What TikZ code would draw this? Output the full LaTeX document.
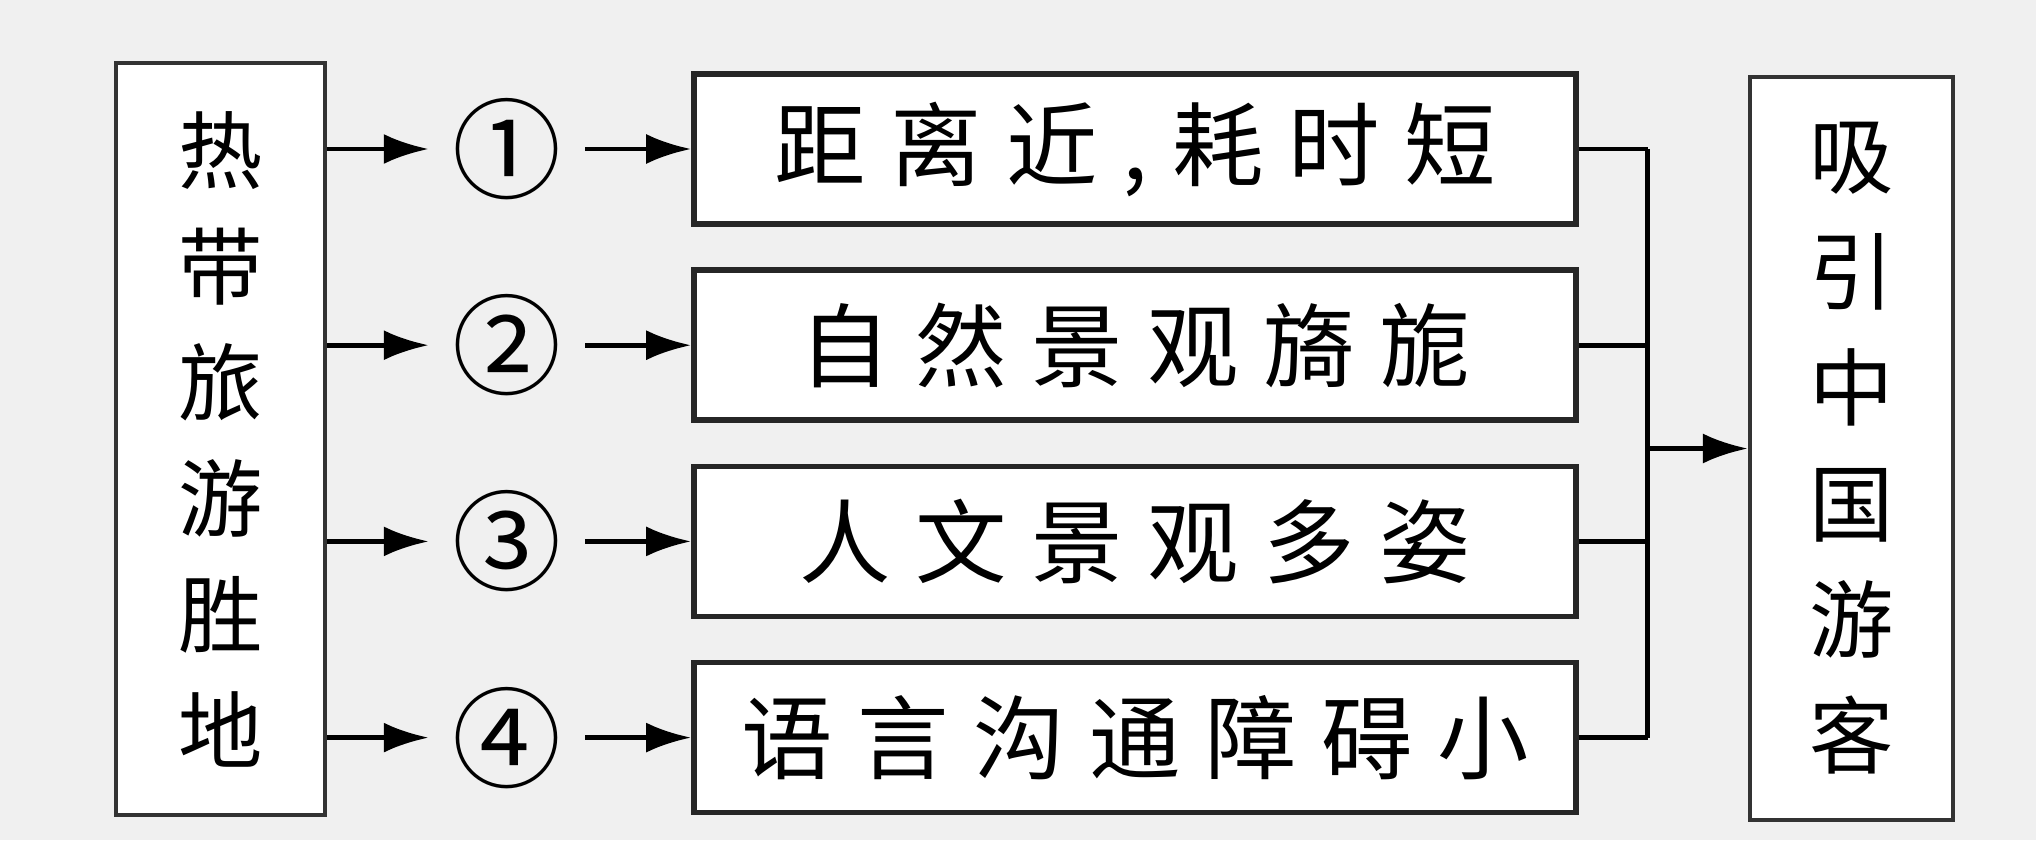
\documentclass[tikz,border=0pt]{standalone}
\usepackage{fontspec}
\setmainfont{Noto Sans CJK SC}
\usetikzlibrary{arrows.meta}
\tikzset{
  box/.style={draw=black!85, line width=1.6pt, fill=white, minimum width=8.82cm, minimum height=1.5cm, inner sep=0pt,
    font=\fontsize{26}{30}\selectfont\addfontfeatures{LetterSpace=27}},
  sidebox/.style={draw=black!80, line width=1.2pt, fill=white, inner sep=0pt, align=center, font=\fontsize{24}{33}\selectfont},
  num/.style={inner sep=0pt, minimum width=1.55cm, minimum height=1cm, font=\fontsize{31}{31}\selectfont},
  arr/.style={line width=1.4pt, -{Latex[length=4.5mm,width=3mm]}},
  link/.style={line width=1.4pt}
}

\begin{document}
\begin{tikzpicture}
   % Background
   \fill[black!6] (0,0) rectangle (20.36,-8.40);
   \useasboundingbox (0,0) rectangle (20.36,-8.40);

   % Side boxes
   \node[sidebox, minimum width=2.09cm, minimum height=7.52cm] (src) at (2.205,-4.39) {热\\带\\旅\\游\\胜\\地};
   \node[sidebox, minimum width=2.03cm, minimum height=7.43cm] (dst) at (18.515,-4.485) {吸\\引\\中\\国\\游\\客};

   % Rows
   \foreach \i/\c/\t in {1/①/{距离近,耗时短}, 2/②/自然景观旖旎, 3/③/人文景观多姿, 4/④/语言沟通障碍小} {
     \node[box] (b\i) at (11.35,{-1.49-1.962*(\i-1)}) {\t};
     \node[num] (n\i) at (5.07,{-1.49-1.962*(\i-1)}) {\c};
     \draw[arr] (src.east |- n\i) -- (n\i.west);
     \draw[arr] (n\i.east) -- (b\i.west);
     \draw[link] (b\i.east) -- ++(0.69,0) coordinate (j\i);
   }

   % Join
   \draw[link] (j1) -- (j4);
   \coordinate (jm) at (j1 |- dst.west);
   \draw[arr] (jm) -- (dst.west);

\end{tikzpicture}
\end{document}
